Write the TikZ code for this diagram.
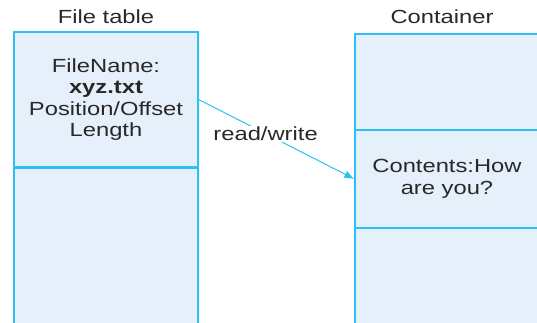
\documentclass[tikz,border=0pt]{standalone}
\usepackage{fontspec}
\setmainfont[FakeStretch=1.25]{Liberation Sans}
\usetikzlibrary{arrows.meta}
\definecolor{boxline}{RGB}{45,192,245}
\definecolor{boxfill}{RGB}{230,240,250}
\definecolor{txt}{RGB}{40,40,40}
\begin{document}
\begin{tikzpicture}[x=1pt,y=-1pt,
  cell/.style={draw=boxline, fill=boxfill, line width=1.3pt, minimum width=184pt,
    inner sep=0pt, align=center, text=txt, font=\fontsize{19}{21.5}\selectfont},
  title/.style={anchor=base, text=txt, inner sep=0pt, font=\fontsize{19}{21.5}\selectfont},
  conn/.style={draw=boxline, line width=1pt, -{Latex[length=10pt,width=8pt]}},
  lbl/.style={fill=white, inner sep=1pt, text=txt, font=\fontsize{19}{21.5}\selectfont}]
\useasboundingbox (0,0) rectangle (537,323);
\clip (0,0) rectangle (537,323);
% titles
\node[title] (t1) at (106,24) {File table};
\node[title] (t2) at (442,24) {Container};
% file table
\node[cell, minimum height=135pt] (ft1) at (106,99.5)
  {FileName:\\\textbf{xyz.txt}\\Position/Offset\\Length};
\node[cell, minimum height=172pt] (ft2) at (106,254) {};
% container
\node[cell, minimum height=96pt] (cn1) at (447,82) {};
\node[cell, minimum height=98pt] (cn2) at (447,179) {Contents:How\\are you?};
\node[cell, minimum height=112pt] (cn3) at (447,284) {};
% connector
\draw[conn] (ft1.east) -- node[lbl, pos=0.43] {read/write} (cn2.west);
\end{tikzpicture}
\end{document}
